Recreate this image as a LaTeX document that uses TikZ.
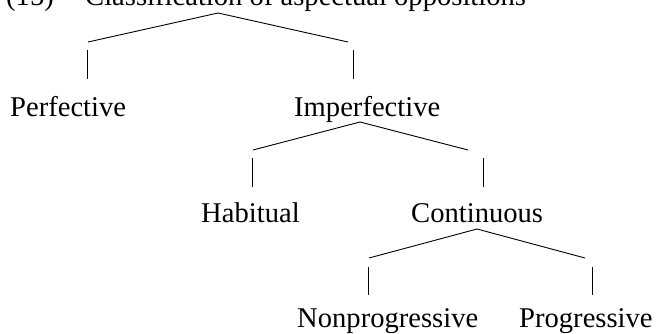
\documentclass[tikz,border=0pt]{standalone}
\usepackage{fontspec}
\setmainfont{Liberation Serif}
\begin{document}
\begin{tikzpicture}[x=1pt,y=-1pt,
  lbl/.style={font=\fontsize{28.6}{34}\selectfont, inner sep=0pt, anchor=base west},
  branch/.style={line width=0.9pt, line cap=butt}]
\useasboundingbox (0,0) rectangle (658,334);
% title
\node[lbl] (num) at (6,6) {(15)};
\node[lbl] (title) at (85,6) {Classification of aspectual oppositions};
% labels
\node[lbl] (perf) at (10,117) {Perfective};
\node[lbl] (imperf) at (294,117) {Imperfective};
\node[lbl] (hab) at (201,222) {Habitual};
\node[lbl] (cont) at (411,222) {Continuous};
\node[lbl] (nonprog) at (297,327) {Nonprogressive};
\node[lbl] (prog) at (519,327) {Progressive};
% level 1
\coordinate (a1) at (218,13);
\coordinate (l1) at (88,42);
\coordinate (r1) at (348,42);
\coordinate (lt1) at (87,50);
\coordinate (lb1) at (87,79);
\coordinate (rt1) at (353,50);
\coordinate (rb1) at (353,79);
\draw[branch] (l1) -- (a1) -- (r1);
\draw[branch] (lt1) -- (lb1);
\draw[branch] (rt1) -- (rb1);
% level 2
\coordinate (a2) at (360,122);
\coordinate (l2) at (253,150);
\coordinate (r2) at (468,150);
\coordinate (lt2) at (252,158);
\coordinate (lb2) at (252,187);
\coordinate (rt2) at (483,158);
\coordinate (rb2) at (483,187);
\draw[branch] (l2) -- (a2) -- (r2);
\draw[branch] (lt2) -- (lb2);
\draw[branch] (rt2) -- (rb2);
% level 3
\coordinate (a3) at (477,229);
\coordinate (l3) at (369,258);
\coordinate (r3) at (585,258);
\coordinate (lt3) at (368,267);
\coordinate (lb3) at (368,295);
\coordinate (rt3) at (592,267);
\coordinate (rb3) at (592,295);
\draw[branch] (l3) -- (a3) -- (r3);
\draw[branch] (lt3) -- (lb3);
\draw[branch] (rt3) -- (rb3);
\end{tikzpicture}
\end{document}
